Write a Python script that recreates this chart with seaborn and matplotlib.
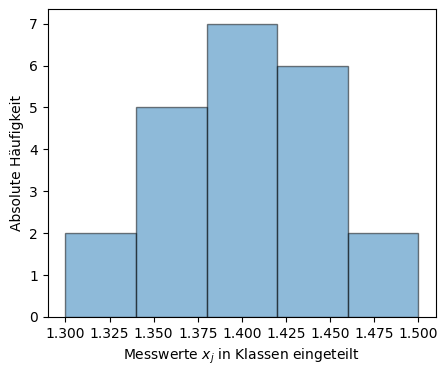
import matplotlib
matplotlib.use("Agg")
import matplotlib.pyplot as plt
import seaborn as sns
import numpy as np

bin_edges = [1.30, 1.34, 1.38, 1.42, 1.46, 1.50]
counts = [2, 5, 7, 6, 2]
x_label = "Messwerte $x_j$ in Klassen eingeteilt"
y_label = "Absolute Häufigkeit"

centers = [(a + b) / 2 for a, b in zip(bin_edges[:-1], bin_edges[1:])]

fig, ax = plt.subplots(figsize=(4.47, 3.76), dpi=100)
sns.histplot(x=centers, weights=counts, bins=bin_edges, color="tab:blue",
             alpha=0.5, edgecolor=(0, 0, 0, 0.5), linewidth=1, ax=ax)
ax.set_xlabel(x_label)
ax.set_ylabel(y_label)
ax.set_xticks(np.arange(1.3, 1.5001, 0.025))
ax.set_xticklabels([f"{v:.3f}" for v in np.arange(1.3, 1.5001, 0.025)])
fig.subplots_adjust(left=0.107, right=0.975, top=0.976, bottom=0.157)
fig.savefig("out.png", dpi=100)
